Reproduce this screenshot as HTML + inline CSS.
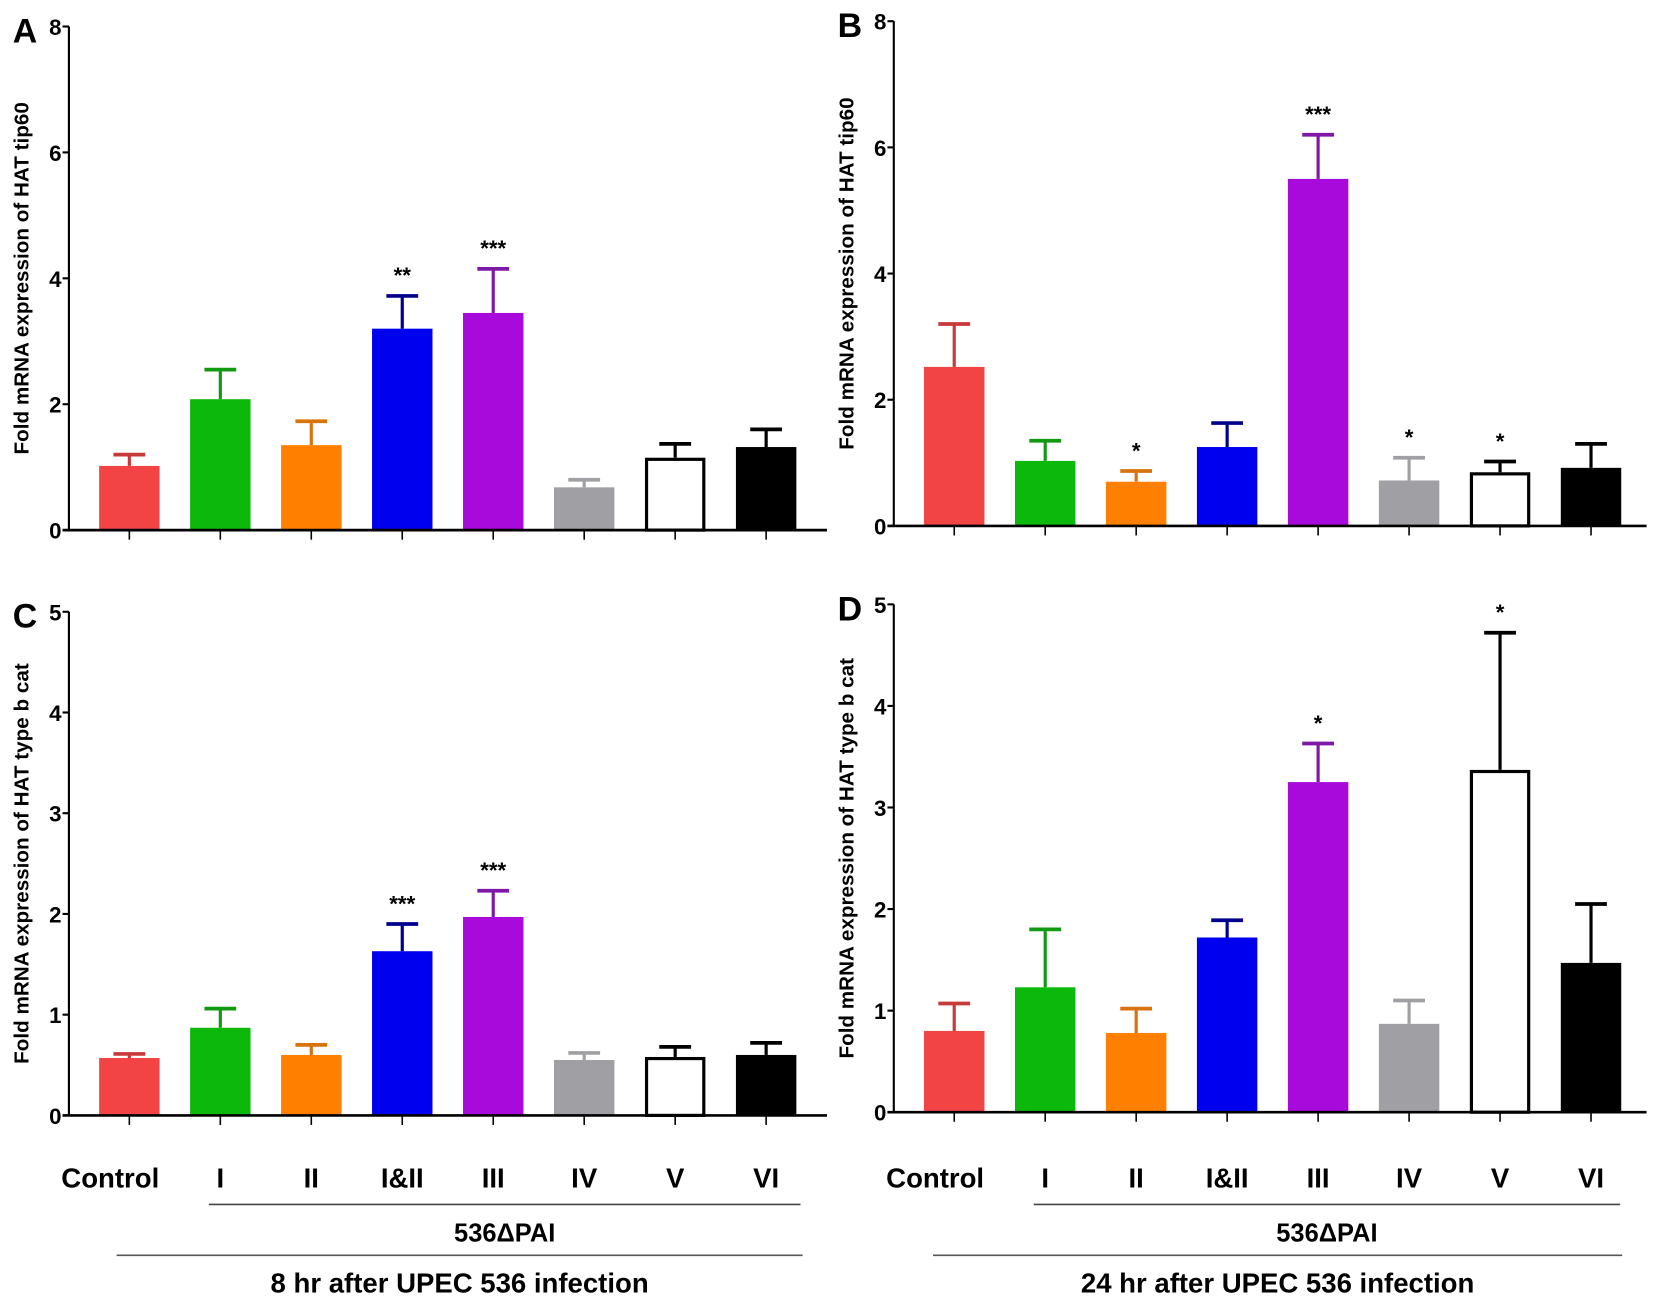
<!DOCTYPE html>
<html><head><meta charset="utf-8"><style>
html,body{margin:0;padding:0;background:#fff;}
svg{display:block;}
text{font-family:"Liberation Sans",sans-serif;font-weight:bold;fill:#000;}
</style></head><body>
<svg id="fig" width="1654" height="1302" viewBox="0 0 1560 1228" preserveAspectRatio="none" xmlns="http://www.w3.org/2000/svg"></svg>
<script>
const categories = ["Control","I","II","I&II","III","IV","V","VI"];
const fills = ["#f24444","#0cb80c","#ff7f00","#0000ee","#a80adc","#a0a0a4","#ffffff","#000000"];
const strokes = ["#c83a3a","#119a11","#d9730e","#00008c","#7f18a8","#a0a0a4","#000000","#000000"];
const valuesA = [1.02,2.08,1.35,3.2,3.45,0.68,1.15,1.32];
const errA = [1.2,2.55,1.73,3.72,4.15,0.8,1.37,1.6];
const starsA = ["","","","**","***","","",""];
const valuesB = [2.52,1.03,0.7,1.25,5.5,0.72,0.85,0.92];
const errB = [3.2,1.35,0.87,1.63,6.2,1.08,1.02,1.3];
const starsB = ["","","*","","***","*","*",""];
const valuesC = [0.57,0.87,0.6,1.63,1.97,0.55,0.58,0.6];
const errC = [0.61,1.06,0.7,1.9,2.23,0.62,0.68,0.72];
const starsC = ["","","","***","***","","",""];
const valuesD = [0.8,1.23,0.78,1.72,3.25,0.87,3.37,1.47];
const errD = [1.07,1.8,1.02,1.89,3.63,1.1,4.72,2.05];
const starsD = ["","","","","*","","*",""];
const ticks8 = [0,2,4,6,8];
const ticks5 = [0,1,2,3,4,5];

const NS="http://www.w3.org/2000/svg";
const svg=document.getElementById('fig');
function mk(tag,attrs,parent){const e=document.createElementNS(NS,tag);for(const k in attrs)e.setAttribute(k,attrs[k]);(parent||svg).appendChild(e);return e;}

function panel(opt){
  const g=mk('g',{});
  
  
  const ymax=opt.ticks[opt.ticks.length-1];
  const y=v=>opt.y0-(opt.y0-opt.yTop)*v/ymax;
  const step=85.8;
  const x=i=>opt.x0+57+i*step;
  const L=mk('text',{x:opt.x0-53,y:opt.yTop+15,'font-size':32},g);L.textContent=opt.letter;
  
  
  const t=mk('text',{transform:`translate(${opt.x0-38},${(opt.y0+opt.yTop)/2}) rotate(-90)`,'text-anchor':'middle','font-size':19.5},g);
  t.textContent=opt.title;
  
  
  for(let i=0;i<8;i++){
    const cx=x(i),w=57,v=opt.vals[i],e=opt.errs[i];
    const eb=mk('line',{x1:cx,x2:cx,y1:y(v),y2:y(e),stroke:strokes[i],'stroke-width':3},g);
    
    
    const cap=mk('line',{x1:cx-15,x2:cx+15,y1:y(e),y2:y(e),stroke:strokes[i],'stroke-width':3.5},g);
    
    
    const isW=fills[i]==="#ffffff";
    const r=mk('rect',{x:cx-w/2+(isW?1.5:0),y:y(v)+(isW?1.5:0),width:w-(isW?3:0),height:y(0)-y(v)-(isW?1.5:0),fill:fills[i],stroke:isW?"#000":"none",'stroke-width':3},g);
    
    
    if(opt.stars[i]){
      const s=mk('text',{x:cx,y:y(e)-12,'text-anchor':'middle','font-size':21},g);s.textContent=opt.stars[i];
      
      
    }
    const tk=mk('line',{x1:cx,x2:cx,y1:opt.y0,y2:opt.y0+9,stroke:'#000','stroke-width':1.5},g);
    
    
  }
  const ya=mk('line',{x1:opt.x0,x2:opt.x0,y1:opt.yTop,y2:opt.y0,stroke:'#000','stroke-width':2},g);
  
  
  const xa=mk('line',{x1:opt.x0-6,x2:opt.xEnd,y1:opt.y0,y2:opt.y0,stroke:'#000','stroke-width':2.5},g);
  
  
  for(const tv of opt.ticks){
    const tl=mk('line',{x1:opt.x0-6,x2:opt.x0,y1:y(tv),y2:y(tv),stroke:'#000','stroke-width':2},g);
    
    
    const tt=mk('text',{x:opt.x0-7,y:y(tv)+8,'text-anchor':'end','font-size':21},g);tt.textContent=tv;
    
    
  }
  return x;
}
const xA=panel({letter:'A',x0:65,xEnd:780,y0:500,yTop:25,ticks:ticks8,vals:valuesA,errs:errA,stars:starsA,title:'Fold mRNA expression of HAT tip60'});
const xB=panel({letter:'B',x0:843,xEnd:1553,y0:496,yTop:20,ticks:ticks8,vals:valuesB,errs:errB,stars:starsB,title:'Fold mRNA expression of HAT tip60'});
panel({letter:'C',x0:65,xEnd:780,y0:1052,yTop:577,ticks:ticks5,vals:valuesC,errs:errC,stars:starsC,title:'Fold mRNA expression of HAT type b cat'});
panel({letter:'D',x0:843,xEnd:1553,y0:1049,yTop:570,ticks:ticks5,vals:valuesD,errs:errD,stars:starsD,title:'Fold mRNA expression of HAT type b cat'});

function bottom(xf,l1a,l1b,l2a,l2b,title){
  for(let i=0;i<8;i++){
    const t=mk('text',{x:i===0?xf(i)-18:xf(i),y:1120,'text-anchor':'middle','font-size':26});t.textContent=categories[i];
    
    
  }
  const a=mk('line',{x1:l1a,x2:l1b,y1:1136,y2:1136,stroke:'#444','stroke-width':1.5});
  
  
  const p=mk('text',{x:(l1a+l1b)/2,y:1171,'text-anchor':'middle','font-size':24});p.textContent='536ΔPAI';
  
  
  const b=mk('line',{x1:l2a,x2:l2b,y1:1184,y2:1184,stroke:'#555','stroke-width':1.5});
  
  
  const c=mk('text',{x:(l2a+l2b)/2,y:1219,'text-anchor':'middle','font-size':26});c.textContent=title;
  
  
}
bottom(xA,197,755,110,757,'8 hr after UPEC 536 infection');
bottom(xB,975,1528,880,1530,'24 hr after UPEC 536 infection');
</script>
</body></html>
